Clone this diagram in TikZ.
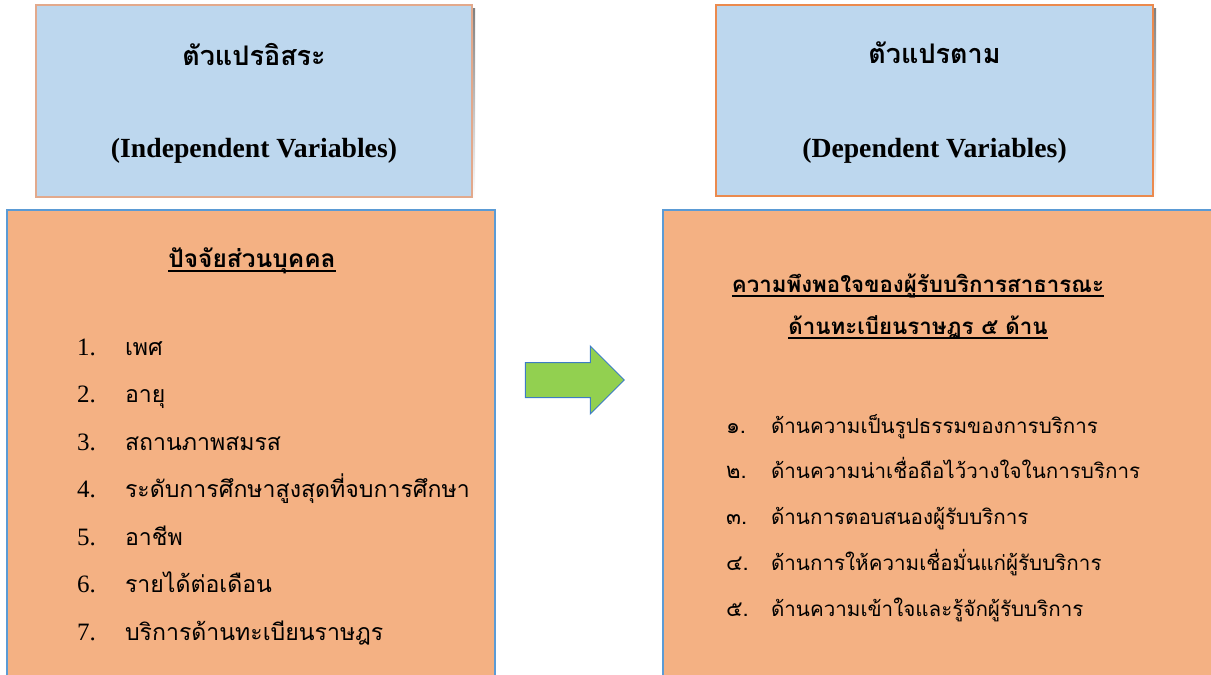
\documentclass[tikz,border=0pt]{standalone}
\usepackage{fontspec}
\setmainfont{Liberation Serif}
\newfontfamily\thai[Script=Thai]{Loma}
\usetikzlibrary{shapes.arrows}
\definecolor{topfill}{HTML}{BDD7EE}
\definecolor{topedgeL}{HTML}{E2A98C}
\definecolor{topedgeR}{HTML}{EB8A4E}
\definecolor{shade}{HTML}{C9B8AE}
\definecolor{botfill}{HTML}{F4B183}
\definecolor{botedge}{HTML}{5B9BD5}
\definecolor{arrowfill}{HTML}{92D050}
\definecolor{arrowedge}{HTML}{3D7CC4}
\tikzset{
  topbox/.style={draw, fill=topfill, line width=2pt, inner sep=0pt, rectangle},
  botbox/.style={draw=botedge, fill=botfill, line width=2.5pt, inner sep=0pt, rectangle},
  txt/.style={inner sep=0pt, outer sep=0pt, text=black},
  thtitle/.style={txt, anchor=base, font=\thai\bfseries\fontsize{27}{32}\selectfont},
  entitle/.style={txt, anchor=base, font=\bfseries\fontsize{27.7}{32}\selectfont},
  headL/.style={txt, anchor=base, font=\thai\bfseries\fontsize{24.5}{29}\selectfont},
  headR/.style={txt, anchor=base, font=\thai\bfseries\fontsize{22.3}{27}\selectfont},
  num/.style={txt, anchor=base west, font=\fontsize{25}{30}\selectfont},
  thnum/.style={txt, anchor=base west, font=\thai\fontsize{22}{26}\selectfont},
  itemL/.style={txt, anchor=base west, font=\thai\fontsize{23.1}{28}\selectfont},
  itemR/.style={txt, anchor=base west, font=\thai\fontsize{20.6}{25}\selectfont},
}
\begin{document}
\begin{tikzpicture}[x=1pt,y=-1pt]
\useasboundingbox (0,0) rectangle (1211,675);
\clip (0,0) rectangle (1211,675);
% top boxes with soft shadow
\fill[shade] (39,8) rectangle (475,200);
\fill[shade] (719,8) rectangle (1156,199);
\node[topbox, draw=topedgeL, minimum width=436pt, minimum height=192pt] (tl) at (254,101) {};
\node[topbox, draw=topedgeR, minimum width=437pt, minimum height=191pt] (tr) at (934.5,100.5) {};
\node[thtitle] (tlth) at (254,65) {ตัวแปรอิสระ};
\node[entitle] (tlen) at (254,157) {(Independent Variables)};
\node[thtitle] (trth) at (934.5,63) {ตัวแปรตาม};
\node[entitle] (tren) at (934.5,157) {(Dependent Variables)};
% bottom boxes
\node[botbox, minimum width=488pt, minimum height=490pt] (bl) at (251,455) {};
\node[botbox, minimum width=567pt, minimum height=490pt] (br) at (946.5,455) {};
% arrow
\node[single arrow, draw=arrowedge, fill=arrowfill, line width=1pt,
      minimum height=99pt, inner xsep=0pt, inner ysep=17pt,
      single arrow head extend=16.5pt, single arrow tip angle=90] (arr) at (566,380) {};
% left header
\node[headL] (lh) at (252,267) {ปัจจัยส่วนบุคคล};
\draw[line width=1.2pt] ([yshift=-4pt]lh.base west) -- ([yshift=-4pt]lh.base east);
% left list
\node[num] (n1) at (77,355) {1.};
\node[itemL] (i1) at (125,355) {เพศ};
\node[num] (n2) at (77,402.5) {2.};
\node[itemL] (i2) at (125,402.5) {อายุ};
\node[num] (n3) at (77,450) {3.};
\node[itemL] (i3) at (125,450) {สถานภาพสมรส};
\node[num] (n4) at (77,497.5) {4.};
\node[itemL] (i4) at (125,497.5) {ระดับการศึกษาสูงสุดที่จบการศึกษา};
\node[num] (n5) at (77,545) {5.};
\node[itemL] (i5) at (125,545) {อาชีพ};
\node[num] (n6) at (77,592.5) {6.};
\node[itemL] (i6) at (125,592.5) {รายได้ต่อเดือน};
\node[num] (n7) at (77,640) {7.};
\node[itemL] (i7) at (125,640) {บริการด้านทะเบียนราษฎร};
% right header
\node[headR] (rh1) at (918,292) {ความพึงพอใจของผู้รับบริการสาธารณะ};
\draw[line width=1.2pt] ([yshift=-4pt]rh1.base west) -- ([yshift=-4pt]rh1.base east);
\node[headR] (rh2) at (918,334) {ด้านทะเบียนราษฎร ๕ ด้าน};
\draw[line width=1.2pt] ([yshift=-4pt]rh2.base west) -- ([yshift=-4pt]rh2.base east);
% right list
\node[thnum] (m1) at (726,433) {๑.};
\node[itemR] (j1) at (771,433) {ด้านความเป็นรูปธรรมของการบริการ};
\node[thnum] (m2) at (726,478.75) {๒.};
\node[itemR] (j2) at (771,478.75) {ด้านความน่าเชื่อถือไว้วางใจในการบริการ};
\node[thnum] (m3) at (726,524.5) {๓.};
\node[itemR] (j3) at (771,524.5) {ด้านการตอบสนองผู้รับบริการ};
\node[thnum] (m4) at (726,570.25) {๔.};
\node[itemR] (j4) at (771,570.25) {ด้านการให้ความเชื่อมั่นแก่ผู้รับบริการ};
\node[thnum] (m5) at (726,616) {๕.};
\node[itemR] (j5) at (771,616) {ด้านความเข้าใจและรู้จักผู้รับบริการ};
\end{tikzpicture}
\end{document}
